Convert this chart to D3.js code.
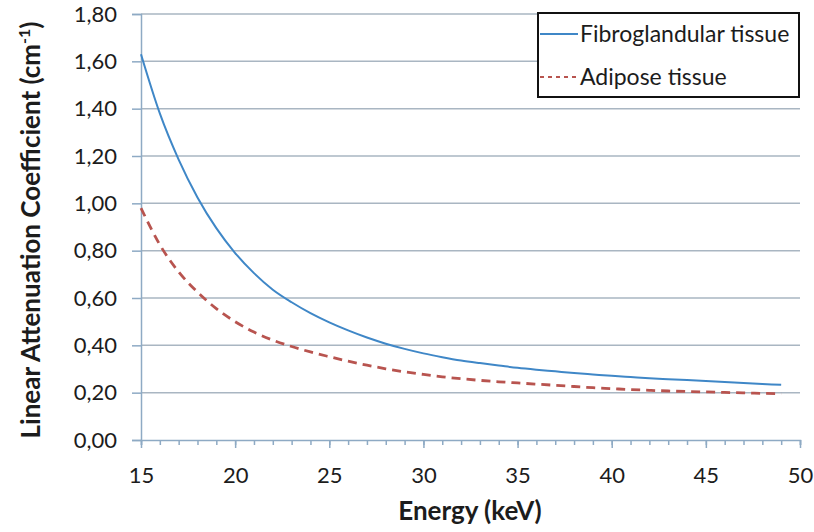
<!DOCTYPE html>
<html>
<head>
<meta charset="utf-8">
<script src="https://cdn.jsdelivr.net/npm/d3@7"></script>
<style>
  body { margin: 0; background: #fff; }
  text { font-family: Lato, "Open Sans", sans-serif; fill: #1c1c1c; }
</style>
</head>
<body>
<div id="chart"></div>
<script>
const svgWidth = 814;
const svgHeight = 532;
const margins = {top: 14, right: 14, bottom: 92, left: 141};

// energies in keV
const energy = d3.range(15, 50);
const fibroglandular = [1.63, 1.38, 1.185, 1.025, 0.895, 0.79, 0.705, 0.635, 0.582, 0.536,
  0.497, 0.463, 0.433, 0.407, 0.385, 0.366, 0.35, 0.336, 0.325, 0.315,
  0.305, 0.297, 0.29, 0.283, 0.277, 0.271, 0.266, 0.261, 0.257, 0.253,
  0.249, 0.245, 0.241, 0.237, 0.233];
const adipose = [0.98, 0.825, 0.71, 0.625, 0.555, 0.50, 0.456, 0.422, 0.395, 0.372,
  0.352, 0.333, 0.316, 0.301, 0.288, 0.277, 0.267, 0.259, 0.252, 0.246,
  0.241, 0.236, 0.231, 0.226, 0.221, 0.217, 0.213, 0.21, 0.207, 0.205,
  0.203, 0.201, 0.199, 0.197, 0.195];
const xTicks = [15, 20, 25, 30, 35, 40, 45, 50];
const yTicks = [0, 0.2, 0.4, 0.6, 0.8, 1.0, 1.2, 1.4, 1.6, 1.8];
const seriesNames = ["Fibroglandular tissue", "Adipose tissue"];

const svg = d3.select("#chart")
  .append("svg")
  .attr("width", svgWidth)
  .attr("height", svgHeight);

const xScale = d3.scaleLinear()
  .domain([15, 50])
  .range([margins.left, svgWidth - margins.right]);

const yScale = d3.scaleLinear()
  .domain([0, 1.8])
  .range([svgHeight - margins.bottom, margins.top]);

const fmt = d => d3.format(".2f")(d).replace(".", ",");

// gridlines
svg.append("g")
  .selectAll("line")
  .data(yTicks.slice(1))
  .join("line")
    .attr("x1", margins.left)
    .attr("x2", xScale(50))
    .attr("y1", d => yScale(d))
    .attr("y2", d => yScale(d))
    .attr("stroke", "#a9b6c2")
    .attr("stroke-width", 1.5);

// y axis
const yAxis = svg.append("g")
  .attr("transform", "translate(" + margins.left + ",0)")
  .call(d3.axisLeft(yScale).tickValues(yTicks).tickFormat(fmt).tickSize(9).tickPadding(15));
yAxis.selectAll("line, path").attr("stroke", "#8eaac4").attr("stroke-width", 1.5);
yAxis.selectAll("text").attr("font-size", "22px").attr("font-family", "Lato").attr("fill", "#1c1c1c");

// x axis, minor ticks every keV
const xAxisY = yScale(0);
const xMinor = svg.append("g")
  .attr("transform", "translate(0," + xAxisY + ")")
  .call(d3.axisBottom(xScale).tickValues(d3.range(15, 51)).tickFormat("").tickSize(5));
xMinor.selectAll("line, path").attr("stroke", "#8eaac4").attr("stroke-width", 1.5);

const xAxis = svg.append("g")
  .attr("transform", "translate(0," + xAxisY + ")")
  .call(d3.axisBottom(xScale).tickValues(xTicks).tickSize(8).tickPadding(19));
xAxis.select("path").remove();
xAxis.selectAll("line").attr("stroke", "#8eaac4").attr("stroke-width", 1.5);
xAxis.selectAll("text").attr("font-size", "22px").attr("font-family", "Lato").attr("fill", "#1c1c1c");

// lines
const line = vals => d3.line()
  .x((d, i) => xScale(energy[i]))
  .y(d => yScale(d))
  .curve(d3.curveMonotoneX)(vals);

svg.append("path")
  .attr("d", line(fibroglandular))
  .attr("fill", "none")
  .attr("stroke", "#3f87c7")
  .attr("stroke-width", 2);

svg.append("path")
  .attr("d", line(adipose))
  .attr("fill", "none")
  .attr("stroke", "#b8544f")
  .attr("stroke-width", 2.8)
  .attr("stroke-dasharray", "9,6");

// axis titles
svg.append("text")
  .attr("x", 470)
  .attr("y", 520)
  .attr("text-anchor", "middle")
  .attr("font-size", "26px")
  .attr("font-weight", "bold")
  .text("Energy (keV)");

const yTitle = svg.append("text")
  .attr("transform", "translate(40,230) rotate(-90)")
  .attr("text-anchor", "middle")
  .attr("font-size", "26px")
  .attr("font-weight", "bold");
yTitle.append("tspan").text("Linear Attenuation Coefficient (cm");
yTitle.append("tspan").attr("font-size", "16px").attr("dy", "-10").text("-1");
yTitle.append("tspan").attr("dy", "10").text(")");

// legend
const legend = svg.append("g");
legend.append("rect")
  .attr("x", 538).attr("y", 13)
  .attr("width", 261).attr("height", 84)
  .attr("fill", "#fff")
  .attr("stroke", "#111")
  .attr("stroke-width", 2);

const legendItems = [
  {name: seriesNames[0], color: "#3f87c7", dash: null, width: 2},
  {name: seriesNames[1], color: "#b8544f", dash: "4,4", width: 2}
];
legendItems.forEach((d, i) => {
  const y = 34 + i * 43;
  legend.append("line")
    .attr("x1", 540).attr("x2", 578)
    .attr("y1", y).attr("y2", y)
    .attr("stroke", d.color)
    .attr("stroke-width", d.width)
    .attr("stroke-dasharray", d.dash);
  legend.append("text")
    .attr("x", 580).attr("y", y + 8)
    .attr("font-size", "23px")
    .text(d.name);
});
</script>
</body>
</html>
